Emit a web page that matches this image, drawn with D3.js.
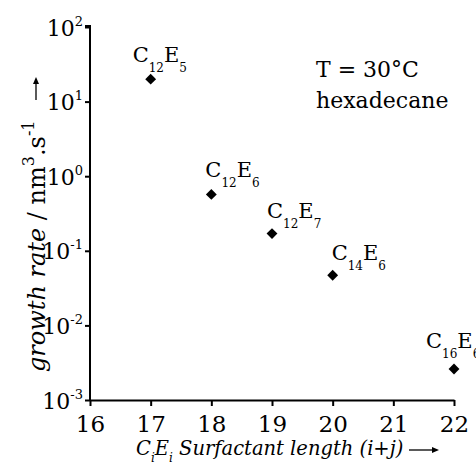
<!DOCTYPE html>
<html>
<head>
<meta charset="utf-8">
<script src="https://cdn.jsdelivr.net/npm/d3@7"></script>
<style>
  html, body { margin: 0; padding: 0; background: #fff; }
  svg { display: block; }
  text { font-family: "DejaVu Serif", "Liberation Serif", serif; fill: #000; }
</style>
</head>
<body>
<svg id="chart" width="476" height="468"></svg>
<script>
// ---- data ----
const surfactantLength = [17, 18, 19, 20, 22];
const growthRate = [20, 0.57, 0.17, 0.047, 0.0026];
const labelCarbon = ["12", "12", "12", "14", "16"];
const labelEO = ["5", "6", "7", "6", "6"];
const xTicks = [16, 17, 18, 19, 20, 21, 22];
const yTickExponents = [-3, -2, -1, 0, 1, 2];
// label offsets relative to each point (layout)
const labelDx = [-18, -6, -5, -1, -28];
const labelDy = [-17, -17, -16, -15, -21];

const svg = d3.select("#chart");
const x = d3.scaleLinear().domain([16, 22]).range([90, 454]);
const y = d3.scaleLog().domain([1e-3, 1e2]).range([400, 27]);

// y axis
const yAxis = svg.append("g")
  .attr("transform", "translate(90,0)")
  .call(d3.axisLeft(y).tickValues(yTickExponents.map(e => Math.pow(10, e))).tickFormat("").tickSize(5).tickSizeOuter(0));
yAxis.select(".domain").attr("stroke-width", 2).attr("d", `M0,${y(1e-3)}V${y(1e2)-1}H-5`);
yAxis.selectAll(".tick line").attr("stroke-width", 2);
yAxis.selectAll(".tick").each(function(d, i) {
  const g = d3.select(this);
  const t = g.append("text").attr("x", -7).attr("y", 8).attr("text-anchor", "end").style("font-size", "22px");
  t.append("tspan").text("10");
  t.append("tspan").attr("dy", -10).style("font-size", "13px").text(String(yTickExponents[i]));
});

// x axis
const xAxis = svg.append("g")
  .attr("transform", `translate(0,${y(1e-3)})`)
  .call(d3.axisBottom(x).tickValues(xTicks).tickFormat(d3.format("d")).tickSize(6).tickSizeOuter(0));
xAxis.select(".domain").attr("stroke-width", 2);
xAxis.selectAll(".tick line").attr("stroke-width", 2);
xAxis.selectAll(".tick text").attr("y", 32).attr("dy", 0).style("font-size", "23px").attr("font-family", "DejaVu Serif");

// points
const sym = d3.symbol().type(d3.symbolDiamond2).size(75);
svg.append("g").selectAll("path").data(surfactantLength).join("path")
  .attr("transform", (d, i) => `translate(${x(d)},${y(growthRate[i])})`)
  .attr("d", sym)
  .attr("fill", "#000");

// labels
const lab = svg.append("g").selectAll("text").data(surfactantLength).join("text")
  .attr("x", (d, i) => x(d) + labelDx[i])
  .attr("y", (d, i) => y(growthRate[i]) + labelDy[i])
  .style("font-size", "21px");
lab.append("tspan").text("C");
lab.append("tspan").attr("dy", 10).style("font-size", "12px").text((d, i) => labelCarbon[i]);
lab.append("tspan").attr("dy", -10).text("E");
lab.append("tspan").attr("dy", 10).style("font-size", "12px").text((d, i) => labelEO[i]);

// annotation
svg.append("text").attr("x", 316).attr("y", 77).style("font-size", "22px").text("T = 30°C");
svg.append("text").attr("x", 316).attr("y", 108).style("font-size", "22px").text("hexadecane");

// y title
const yt = svg.append("text")
  .attr("transform", "translate(45,372) rotate(-90)")
  .style("font-size", "24px");
yt.append("tspan").style("font-style", "italic").text("growth rate");
yt.append("tspan").text(" / nm");
yt.append("tspan").attr("dy", -11).style("font-size", "16px").text("3");
yt.append("tspan").attr("dy", 11).text(".s");
yt.append("tspan").attr("dy", -11).style("font-size", "16px").text("-1");

// arrows
function arrow(x1, y1, x2, y2) {
  const ang = Math.atan2(y2 - y1, x2 - x1);
  const g = svg.append("g");
  g.append("line").attr("x1", x1).attr("y1", y1).attr("x2", x2 - 4 * Math.cos(ang)).attr("y2", y2 - 4 * Math.sin(ang))
    .attr("stroke", "#000").attr("stroke-width", 1.3);
  const L = 7, W = 3;
  const px = -Math.sin(ang), py = Math.cos(ang);
  const bx = x2 - L * Math.cos(ang), by = y2 - L * Math.sin(ang);
  g.append("path").attr("d", `M${x2},${y2}L${bx + W * px},${by + W * py}L${bx - W * px},${by - W * py}Z`).attr("fill", "#000");
}
arrow(36, 100, 36, 77);

// x title
const xt = svg.append("text").attr("x", 136).attr("y", 455).style("font-size", "19.5px").style("font-style", "italic");
xt.append("tspan").text("C");
xt.append("tspan").attr("dy", 7).style("font-size", "12px").text("i");
xt.append("tspan").attr("dy", -7).text("E");
xt.append("tspan").attr("dy", 7).style("font-size", "12px").text("i");
xt.append("tspan").attr("dy", -7).text(" Surfactant length (i+j)");
arrow(409, 450, 439, 450);
</script>
</body>
</html>
